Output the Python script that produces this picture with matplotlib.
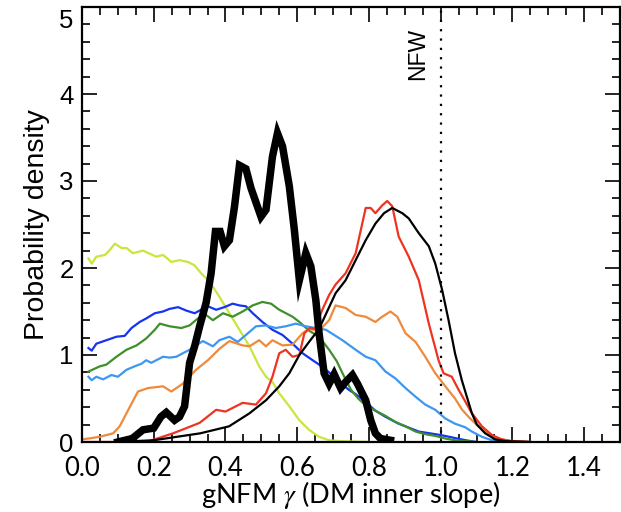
import matplotlib
matplotlib.use("Agg")
import matplotlib.pyplot as plt
from matplotlib.ticker import MultipleLocator, FixedLocator
from matplotlib.transforms import ScaledTranslation

# ---- posterior densities of the gNFW inner slope ----
combined_x = [0.10, 0.14, 0.17, 0.20, 0.22, 0.235, 0.258, 0.272, 0.286, 0.30, 0.314, 0.328,
              0.346, 0.36, 0.372, 0.385, 0.397, 0.411, 0.425, 0.439, 0.457, 0.471, 0.499,
              0.513, 0.531, 0.545, 0.559, 0.578, 0.592, 0.606, 0.624, 0.638, 0.652, 0.661,
              0.675, 0.689, 0.703, 0.721, 0.735, 0.754, 0.768, 0.791, 0.805, 0.818, 0.832, 0.86]
combined_y = [0.0, 0.04, 0.14, 0.16, 0.29, 0.34, 0.25, 0.29, 0.41, 0.91, 1.10, 1.33,
              1.60, 1.94, 2.42, 2.42, 2.25, 2.32, 2.70, 3.18, 3.14, 2.92, 2.59,
              2.67, 3.28, 3.55, 3.40, 2.94, 2.44, 1.86, 2.17, 2.02, 1.63, 1.25,
              0.79, 0.67, 0.78, 0.62, 0.69, 0.77, 0.67, 0.48, 0.25, 0.10, 0.04, 0.02]

thin_black_x = [0.09, 0.20, 0.33, 0.41, 0.467, 0.513, 0.55, 0.578, 0.606, 0.633, 0.661, 0.689,
                0.707, 0.735, 0.763, 0.791, 0.818, 0.842, 0.865, 0.893, 0.911, 0.939, 0.967,
                0.985, 1.004, 1.022, 1.04, 1.059, 1.073, 1.087, 1.101, 1.124, 1.152, 1.18, 1.25]
thin_black_y = [0.0, 0.02, 0.10, 0.18, 0.33, 0.48, 0.64, 0.79, 1.00, 1.15, 1.30, 1.55,
                1.71, 1.86, 2.09, 2.32, 2.51, 2.63, 2.69, 2.63, 2.57, 2.40, 2.25,
                2.05, 1.75, 1.40, 1.02, 0.71, 0.52, 0.33, 0.20, 0.10, 0.03, 0.01, 0.0]

red_x = [0.0, 0.18, 0.254, 0.328, 0.374, 0.40, 0.448, 0.485, 0.513, 0.531, 0.55, 0.568, 0.587,
         0.606, 0.62, 0.635, 0.65, 0.67, 0.689, 0.707, 0.735, 0.763, 0.791, 0.805, 0.818,
         0.837, 0.851, 0.865, 0.883, 0.911, 0.939, 0.967, 0.994, 1.008, 1.031, 1.05, 1.064,
         1.087, 1.115, 1.143, 1.17, 1.198, 1.25]
red_y = [0.0, 0.0, 0.10, 0.22, 0.37, 0.35, 0.45, 0.43, 0.56, 0.75, 1.02, 1.06, 0.98,
         1.00, 1.25, 1.31, 1.30, 1.52, 1.69, 1.81, 1.94, 2.17, 2.69, 2.69, 2.63,
         2.72, 2.77, 2.71, 2.36, 2.13, 1.86, 1.36, 0.94, 0.79, 0.75, 0.60, 0.50,
         0.33, 0.18, 0.08, 0.03, 0.01, 0.0]

orange_x = [0.0, 0.018, 0.05, 0.087, 0.105, 0.124, 0.156, 0.184, 0.226, 0.249, 0.281, 0.318,
            0.351, 0.383, 0.411, 0.448, 0.467, 0.494, 0.513, 0.531, 0.559, 0.587, 0.615,
            0.633, 0.661, 0.689, 0.707, 0.735, 0.763, 0.791, 0.818, 0.837, 0.86, 0.879,
            0.902, 0.93, 0.957, 0.985, 1.013, 1.04, 1.06, 1.08, 1.10, 1.124, 1.152, 1.189, 1.25]
orange_y = [0.03, 0.04, 0.06, 0.10, 0.18, 0.33, 0.58, 0.62, 0.64, 0.58, 0.67, 0.83,
            0.94, 1.07, 1.16, 1.11, 1.10, 1.17, 1.10, 1.17, 1.11, 1.12, 1.25,
            1.30, 1.28, 1.40, 1.57, 1.54, 1.46, 1.44, 1.38, 1.44, 1.50, 1.44,
            1.25, 1.15, 0.98, 0.79, 0.64, 0.50, 0.37, 0.28, 0.20, 0.12, 0.05, 0.015, 0.0]

lightblue_x = [0.018, 0.027, 0.04, 0.059, 0.082, 0.10, 0.124, 0.147, 0.166, 0.179, 0.193,
               0.226, 0.244, 0.263, 0.281, 0.30, 0.318, 0.337, 0.351, 0.365, 0.383, 0.411,
               0.434, 0.457, 0.485, 0.513, 0.54, 0.568, 0.596, 0.624, 0.652, 0.68, 0.707,
               0.726, 0.763, 0.791, 0.818, 0.846, 0.874, 0.902, 0.93, 0.957, 0.985, 1.013,
               1.04, 1.068, 1.087, 1.115, 1.143, 1.17, 1.25]
lightblue_y = [0.75, 0.71, 0.75, 0.72, 0.77, 0.75, 0.83, 0.87, 0.90, 0.94, 0.91,
               0.98, 0.97, 0.98, 1.02, 1.06, 1.11, 1.16, 1.13, 1.10, 1.17, 1.21,
               1.15, 1.23, 1.33, 1.34, 1.31, 1.33, 1.36, 1.33, 1.31, 1.29, 1.22,
               1.17, 1.06, 0.98, 0.94, 0.81, 0.73, 0.62, 0.52, 0.43, 0.37, 0.27,
               0.21, 0.17, 0.12, 0.06, 0.02, 0.005, 0.0]

green_x = [0.018, 0.05, 0.068, 0.096, 0.124, 0.152, 0.179, 0.203, 0.217, 0.244, 0.277, 0.30,
           0.323, 0.346, 0.365, 0.393, 0.42, 0.448, 0.476, 0.503, 0.527, 0.55, 0.587, 0.606,
           0.633, 0.661, 0.689, 0.71, 0.73, 0.75, 0.77, 0.791, 0.818, 0.846, 0.874, 0.902,
           0.93, 0.957, 0.985, 1.013, 1.04, 1.07, 1.10]
green_y = [0.81, 0.87, 0.89, 0.98, 1.06, 1.11, 1.19, 1.29, 1.36, 1.33, 1.31, 1.34,
           1.42, 1.46, 1.40, 1.48, 1.44, 1.50, 1.57, 1.61, 1.59, 1.52, 1.44, 1.38,
           1.28, 1.21, 1.06, 0.93, 0.76, 0.60, 0.50, 0.42, 0.36, 0.30, 0.23, 0.18,
           0.12, 0.09, 0.07, 0.04, 0.02, 0.01, 0.0]

blue_x = [0.018, 0.027, 0.04, 0.068, 0.096, 0.119, 0.138, 0.161, 0.179, 0.203, 0.226, 0.244,
          0.268, 0.291, 0.314, 0.332, 0.351, 0.374, 0.397, 0.42, 0.439, 0.457, 0.476, 0.503,
          0.531, 0.559, 0.587, 0.615, 0.643, 0.661, 0.689, 0.72, 0.744, 0.763, 0.791, 0.818,
          0.846, 0.883, 0.939, 1.0, 1.07, 1.10]
blue_y = [1.08, 1.05, 1.13, 1.17, 1.21, 1.22, 1.31, 1.38, 1.42, 1.48, 1.50, 1.53,
          1.55, 1.51, 1.48, 1.52, 1.56, 1.52, 1.55, 1.59, 1.57, 1.56, 1.48, 1.38,
          1.29, 1.23, 1.13, 1.02, 0.94, 0.89, 0.80, 0.68, 0.60, 0.55, 0.46, 0.36,
          0.29, 0.21, 0.12, 0.08, 0.02, 0.0]

yellow_x = [0.018, 0.027, 0.04, 0.064, 0.078, 0.092, 0.11, 0.124, 0.142, 0.17, 0.207, 0.226,
            0.249, 0.272, 0.295, 0.314, 0.332, 0.356, 0.383, 0.411, 0.439, 0.467, 0.494,
            0.513, 0.531, 0.55, 0.578, 0.606, 0.633, 0.661, 0.689, 0.72, 0.80]
yellow_y = [2.11, 2.05, 2.13, 2.15, 2.21, 2.28, 2.23, 2.23, 2.17, 2.20, 2.13, 2.15,
            2.07, 2.09, 2.07, 2.03, 1.94, 1.84, 1.67, 1.48, 1.29, 1.10, 0.87,
            0.75, 0.69, 0.56, 0.41, 0.25, 0.14, 0.06, 0.02, 0.01, 0.0]

x_tick_values = [0.0, 0.2, 0.4, 0.6, 0.8, 1.0, 1.2, 1.4]
x_tick_labels = ["0.0", "0.2", "0.4", "0.6", "0.8", "1.0", "1.2", "1.4"]
y_tick_values = [0, 1, 2, 3, 4, 5]
nfw_slope = 1.0

plt.rcParams["mathtext.fontset"] = "stix"

fig = plt.figure(figsize=(6.21, 5.12), dpi=100)
ax = fig.add_axes([82 / 621, 70 / 512, 538 / 621, 435 / 512])

thin = 1.6
ax.plot(yellow_x, yellow_y, color="#c8e63c", lw=thin)
ax.plot(blue_x, blue_y, color="#1634f0", lw=thin)
ax.plot(green_x, green_y, color="#3f8f2c", lw=thin)
ax.plot(lightblue_x, lightblue_y, color="#3d97f2", lw=thin)
ax.plot(orange_x, orange_y, color="#ee8a3c", lw=thin)
ax.plot(red_x, red_y, color="#ee3322", lw=thin)
ax.plot(thin_black_x, thin_black_y, color="black", lw=thin)
ax.plot(combined_x, combined_y, color="black", lw=5.4, solid_joinstyle="miter")

ax.axvline(nfw_slope, color="black", lw=1.6, linestyle=(0, (1, 3.2)))
ax.text(0.935, 4.76, "NFW", rotation=90, ha="center", va="top",
        fontsize=16.5, family="Liberation Sans")

ax.set_xlim(0.0, 1.5)
ax.set_ylim(0.0, 5.0)

ax.xaxis.set_major_locator(FixedLocator(x_tick_values))
ax.set_xticklabels(x_tick_labels, family="Lato", fontsize=18.5)
ax.xaxis.set_minor_locator(MultipleLocator(0.05))
ax.yaxis.set_major_locator(FixedLocator(y_tick_values))
ax.set_yticklabels([str(v) for v in y_tick_values], family="Liberation Sans", fontsize=18.5)
ax.yaxis.set_minor_locator(MultipleLocator(0.2))

ax.tick_params(which="both", direction="in", top=True, right=True, width=1.2)
ax.tick_params(which="major", length=11)
ax.tick_params(which="minor", length=5.5)
ax.tick_params(axis="x", which="major", pad=10)
ax.tick_params(axis="y", which="major", pad=6)
for s in ax.spines.values():
    s.set_linewidth(1.6)

# the topmost y label sits a little below its tick so it stays inside the figure
top_label = ax.get_yticklabels()[-1]
top_label.set_transform(top_label.get_transform()
                        + ScaledTranslation(0, -0.11, fig.dpi_scale_trans))

ax.set_ylabel("Probability density", family="Liberation Sans", fontsize=20.5, labelpad=7)
ax.set_xlabel(r"gNFM $\gamma$ (DM inner slope)", family="Lato", fontsize=19.5, labelpad=-1.5)

fig.savefig("out.png", dpi=100)
